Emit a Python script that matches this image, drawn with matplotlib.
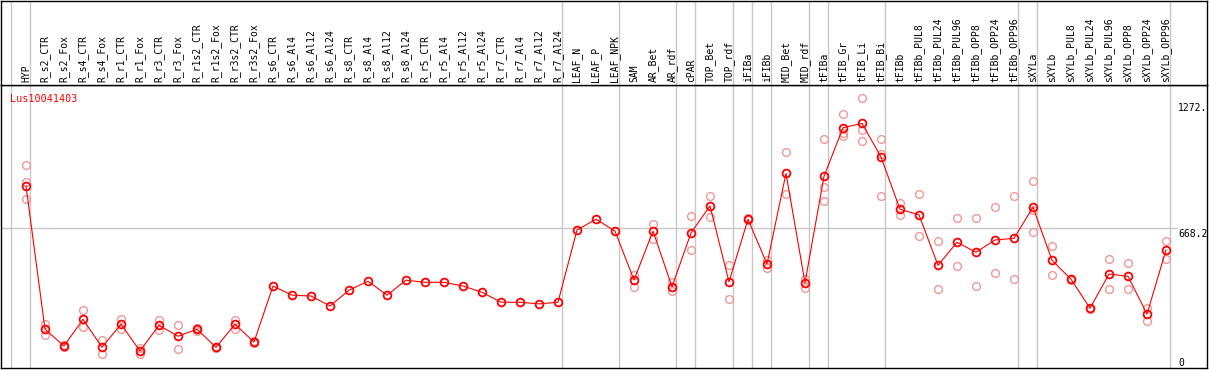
import numpy as np
import matplotlib
matplotlib.use("Agg")
import matplotlib.pyplot as plt

gene = "Lus10041403"

samples = ["HYP", "R_s2_CTR", "R_s2_Fox", "R_s4_CTR", "R_s4_Fox", "R_r1_CTR", "R_r1_Fox",
           "R_r3_CTR", "R_r3_Fox", "R_r1s2_CTR", "R_r1s2_Fox", "R_r3s2_CTR", "R_r3s2_Fox",
           "R_s6_CTR", "R_s6_Al4", "R_s6_Al12", "R_s6_Al24", "R_s8_CTR", "R_s8_Al4",
           "R_s8_Al12", "R_s8_Al24", "R_r5_CTR", "R_r5_Al4", "R_r5_Al12", "R_r5_Al24",
           "R_r7_CTR", "R_r7_Al4", "R_r7_Al12", "R_r7_Al24", "LEAF_N", "LEAF_P", "LEAF_NPK",
           "SAM", "AR_Bet", "AR_rdf", "cPAR", "TOP_Bet", "TOP_rdf", "iFIBa", "iFIBb",
           "MID_Bet", "MID_rdf", "tFIBa", "tFIB_Gr", "tFIB_Li", "tFIB_Bi", "tFIBb",
           "tFIBb_PUL8", "tFIBb_PUL24", "tFIBb_PUL96", "tFIBb_OPP8", "tFIBb_OPP24", "tFIBb_OPP96",
           "sXYLa", "sXYLb", "sXYLb_PUL8", "sXYLb_PUL24", "sXYLb_PUL96", "sXYLb_OPP8",
           "sXYLb_OPP24", "sXYLb_OPP96"]

mean_expr = [872, 182, 101, 230, 95, 206, 77, 201, 148, 182, 95, 206, 120,
             390, 346, 342, 294, 370, 413, 346, 418, 408, 408, 390, 360,
             312, 312, 304, 312, 660, 712, 655,
             419, 655, 387, 646, 776, 410, 712, 496,
             933, 406, 919, 1153, 1174, 1012, 760,
             733, 490, 601, 553, 612, 620,
             770, 514, 423, 283, 448, 437, 255, 564]

nan = np.nan
rep_a = [973, 207, 104, 273, 130, 230, 93, 225, 201, 190, 98, 227, 124,
         nan, nan, nan, nan, nan, nan, nan, nan, nan, nan, nan, nan,
         nan, nan, nan, nan, nan, nan, nan,
         443, 689, 411, 728, 824, 492, 716, 516,
         1036, 426, 1097, 1219, 1295, 1099, 790,
         834, 606, 718, 718, 770, 824,
         896, 583, 426, 286, 519, 501, 286, 607]
rep_b = [893, 153, 98, 193, 61, 182, 61, 177, 88, 175, 92, 183, 117,
         nan, nan, nan, nan, nan, nan, nan, nan, nan, nan, nan, nan,
         nan, nan, nan, nan, nan, nan, nan,
         387, 617, 368, 562, 721, 326, 708, 476,
         832, 382, 867, 1126, 1142, 1027, 734,
         631, 374, 487, 389, 452, 423,
         757, 442, 420, 280, 374, 374, 220, 520]
rep_c = [808, nan, nan, nan, nan, nan, nan, nan, nan, nan, nan, nan, nan,
         nan, nan, nan, nan, nan, nan, nan, nan, nan, nan, nan, nan,
         nan, nan, nan, nan, nan, nan, nan,
         nan, nan, nan, nan, nan, nan, nan, nan,
         nan, nan, 800, 1113, 1088, 824, nan,
         nan, nan, nan, nan, nan, nan,
         649, nan, nan, nan, nan, nan, nan, nan]

group_ends = [-1, 0, 28, 31, 34, 35, 37, 38, 39, 41, 42, 45, 52, 53, 60]
y_marks = ["1272.", "668.2", "0"]
y_mark_vals = [1272, 668.2, 0]

W, H = 1209, 370
fig = plt.figure(figsize=(W / 100, H / 100), dpi=100)
fig.patch.set_facecolor("white")

def px2fig(x0, y0, x1, y1):
    return [x0 / W, 1 - y1 / H, (x1 - x0) / W, (y1 - y0) / H]

ax = fig.add_axes(px2fig(1, 85, 1207, 368))
hx = fig.add_axes(px2fig(1, 0.5, 1207, 85), sharex=ax)

x = np.arange(len(samples))
xlim = ((1 - 26) / 19, (1207 - 26) / 19)
ax.set_xlim(*xlim)
ax.set_ylim(-5, 1359)
hx.set_ylim(0, 1)

for a in (ax, hx):
    a.set_xticks([])
    a.set_yticks([])
    for s in a.spines.values():
        s.set_color("black")
        s.set_linewidth(1.0)
    for g in group_ends:
        a.axvline(g + 0.23, color="#c8c8c8", lw=1.0, zorder=0)

ax.axhline(668.2, xmin=0, xmax=(1177 - 1) / 1206, color="#c8c8c8", lw=1.0, zorder=0)

for rep in (rep_a, rep_b, rep_c):
    ax.plot(x, rep, ls="none", marker="o", ms=5.6, mfc="none", mec="#f09898",
            mew=1.0, zorder=2)
ax.plot(x, mean_expr, color="red", lw=0.8, marker="o", ms=5.6, mfc="none",
        mec="red", mew=1.3, zorder=3)

mono = "DejaVu Sans Mono"
for i, lab in enumerate(samples):
    hx.text(i, 0.03, lab, rotation=90, ha="center", va="bottom", fontsize=7,
            family=mono, color="black")

ax.text(xlim[0] + 9 / 19, 1292, gene, color="red", fontsize=7.3, family=mono,
        ha="left", va="center")

xt = (1178 - 26) / 19
for lab, v in zip(y_marks, y_mark_vals):
    if v == 0:
        ax.text(xt, 6, lab, fontsize=7, family=mono, ha="left", va="baseline")
    else:
        ax.text(xt, v - 2, lab, fontsize=7, family=mono, ha="left", va="top",
                clip_on=True)

fig.savefig("out.png", dpi=100, facecolor="white")
